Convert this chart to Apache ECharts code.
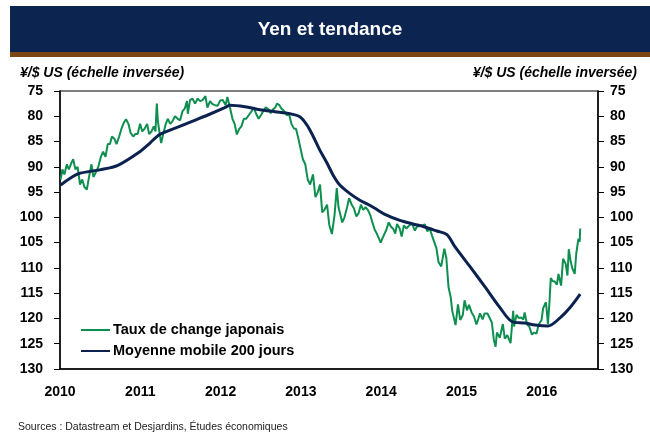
<!DOCTYPE html>
<html>
<head>
<meta charset="utf-8">
<script src="https://cdn.jsdelivr.net/npm/echarts@6/dist/echarts.min.js"></script>
<style>
  html, body { margin: 0; padding: 0; background: #fff; }
  #chart { width: 650px; height: 436px; }
</style>
</head>
<body>
<div id="chart"></div>
<script>
// Yen et tendance - taux ¥/$ US (échelle inversée)
var titre = 'Yen et tendance';
var nomAxe = '¥/$ US (échelle inversée)';
var source = 'Sources : Datastream et Desjardins, Études économiques';
var nomTaux = 'Taux de change japonais';
var nomMoyenne = 'Moyenne mobile 200 jours';
var anneeMin = 2010;
var anneeMax = 2016.7;
var yMin = 75;
var yMax = 130;

// taux de change
var tauxDates = [
  '2010-01-04','2010-01-12','2010-01-21','2010-02-01','2010-02-10','2010-02-22','2010-03-02','2010-03-12','2010-03-22',
  '2010-04-02','2010-04-12','2010-04-22','2010-05-03','2010-05-13','2010-05-24','2010-06-02','2010-06-14','2010-06-24',
  '2010-07-06','2010-07-16','2010-07-27','2010-08-06','2010-08-16','2010-08-25','2010-09-06','2010-09-15','2010-09-27',
  '2010-10-07','2010-10-18','2010-10-28','2010-11-08','2010-11-18','2010-11-30','2010-12-10','2010-12-20','2010-12-31',
  '2011-01-10','2011-01-20','2011-02-01','2011-02-10','2011-02-21','2011-03-03','2011-03-11','2011-03-17','2011-03-22',
  '2011-04-01','2011-04-06','2011-04-15','2011-04-27','2011-05-06','2011-05-17','2011-05-27','2011-06-08','2011-06-20',
  '2011-07-01','2011-07-12','2011-07-22','2011-08-01','2011-08-05','2011-08-15','2011-08-26','2011-09-07','2011-09-19',
  '2011-09-30','2011-10-11','2011-10-24','2011-10-31','2011-11-02','2011-11-14','2011-11-25','2011-12-07','2011-12-19','2011-12-30',
  '2012-01-11','2012-01-24','2012-02-01','2012-02-14','2012-02-24','2012-03-05','2012-03-15','2012-03-26','2012-04-05',
  '2012-04-16','2012-04-26','2012-05-08','2012-05-18','2012-05-31','2012-06-11','2012-06-22','2012-07-03','2012-07-13',
  '2012-07-25','2012-08-06','2012-08-16','2012-08-28','2012-09-07','2012-09-14','2012-09-25','2012-10-05','2012-10-17',
  '2012-10-29','2012-11-08','2012-11-19','2012-11-30','2012-12-10','2012-12-20','2012-12-31',
  '2013-01-10','2013-01-21','2013-02-01','2013-02-12','2013-02-25','2013-03-08','2013-03-19','2013-03-29','2013-04-08',
  '2013-04-18','2013-04-30','2013-05-10','2013-05-22','2013-06-03','2013-06-13','2013-06-21','2013-07-08','2013-07-18',
  '2013-07-30','2013-08-08','2013-08-20','2013-08-30','2013-09-10','2013-09-20','2013-10-01','2013-10-11','2013-10-22',
  '2013-11-01','2013-11-12','2013-11-22','2013-12-03','2013-12-12','2013-12-30',
  '2014-01-06','2014-01-15','2014-01-24','2014-02-04','2014-02-14','2014-02-25','2014-03-06','2014-03-14','2014-03-26',
  '2014-04-04','2014-04-14','2014-04-25','2014-05-06','2014-05-21','2014-06-03','2014-06-13','2014-06-25','2014-07-08',
  '2014-07-18','2014-07-30','2014-08-08','2014-08-20','2014-08-29','2014-09-09','2014-09-19','2014-10-01','2014-10-15',
  '2014-10-24','2014-11-03','2014-11-13','2014-11-20','2014-12-05','2014-12-16','2014-12-26',
  '2015-01-07','2015-01-15','2015-01-26','2015-02-04','2015-02-16','2015-02-27','2015-03-10','2015-03-19','2015-03-26',
  '2015-04-07','2015-04-16','2015-04-29','2015-05-08','2015-05-19','2015-05-28','2015-06-05','2015-06-11','2015-06-24',
  '2015-07-08','2015-07-17','2015-07-28','2015-08-12','2015-08-24','2015-08-28','2015-09-08','2015-09-18','2015-09-29',
  '2015-10-09','2015-10-15','2015-10-26','2015-11-05','2015-11-17','2015-11-27','2015-12-08','2015-12-18','2015-12-31',
  '2016-01-07','2016-01-15','2016-01-20','2016-01-29','2016-02-05','2016-02-11','2016-02-19','2016-02-29','2016-03-10',
  '2016-03-17','2016-03-29','2016-04-07','2016-04-19','2016-04-27','2016-05-03','2016-05-12','2016-05-20','2016-05-30',
  '2016-06-06','2016-06-16','2016-06-22','2016-06-24'
];
var tauxValeurs = [
  92.5, 90.5, 91.5, 89.5, 90.5, 89.2, 88.5, 90.5, 90.0,
  93.5, 92.5, 94.0, 94.5, 92.0, 89.5, 92.0, 91.0, 90.0,
  88.0, 87.0, 88.0, 85.5, 85.5, 84.0, 84.5, 85.5, 84.0,
  82.5, 81.3, 80.6, 81.5, 83.3, 84.0, 83.5, 83.5, 81.5,
  83.0, 82.5, 81.5, 83.5, 83.0, 82.0, 83.0, 77.5, 81.0,
  84.0, 85.3, 83.5, 81.5, 80.5, 81.5, 81.0, 80.0, 80.5,
  80.8, 79.0, 78.5, 77.0, 79.5, 76.8, 76.5, 77.5, 76.5,
  77.0, 76.8, 76.0, 75.8, 78.3, 77.0, 77.6, 77.8, 77.9, 76.9,
  76.8, 77.8, 76.2, 78.5, 80.5, 81.5, 83.6, 82.5, 82.0,
  80.5, 80.5, 79.8, 79.2, 78.3, 79.5, 80.5, 79.8, 79.0,
  78.2, 78.6, 79.4, 78.6, 78.2, 77.5, 77.8, 78.5, 79.0,
  79.8, 79.6, 81.5, 82.4, 82.5, 84.3, 86.5,
  88.5, 89.5, 92.5, 93.5, 91.5, 96.0, 95.0, 93.5, 99.0,
  98.5, 97.5, 101.5, 103.3, 99.5, 94.2, 98.0, 101.0, 100.0,
  98.0, 96.2, 97.5, 98.2, 99.8, 99.2, 97.5, 98.5, 98.0,
  98.5, 99.5, 101.0, 102.5, 103.2, 105.0,
  104.2, 104.5, 102.5, 101.0, 101.8, 102.3, 103.2, 101.3, 102.2,
  103.8, 101.6, 102.2, 101.7, 101.2, 102.6, 101.8, 101.7, 101.6,
  101.4, 102.8, 102.0, 103.6, 103.9, 106.1, 108.9, 109.7, 106.2,
  108.0, 113.8, 115.8, 118.5, 121.3, 117.2, 120.3,
  119.3, 116.4, 118.4, 117.3, 118.8, 119.6, 121.2, 120.0, 119.0,
  120.2, 119.0, 119.0, 119.8, 120.8, 124.2, 125.6, 122.8, 123.8,
  121.1, 124.0, 123.3, 124.9, 118.5, 121.6, 119.3, 119.9, 119.8,
  120.2, 118.8, 121.2, 121.6, 123.2, 122.8, 123.0, 121.2, 120.3,
  118.0, 117.2, 116.8, 121.1, 116.8, 112.0, 112.6, 112.7, 113.3,
  111.2, 113.5, 108.2, 109.2, 111.5, 106.3, 108.8, 110.2, 111.2,
  107.2, 104.2, 104.8, 102.2
];

// moyenne mobile 200 jours
var moyDates = [
  '2010-01-04','2010-03-24','2010-07-01','2010-09-21','2010-12-30','2011-02-14','2011-03-30','2011-06-29',
  '2011-09-05','2011-11-12','2012-01-20','2012-02-12','2012-04-21','2012-06-28','2012-09-05','2012-11-12',
  '2012-12-27','2013-01-28','2013-02-25','2013-03-28','2013-04-29','2013-05-27','2013-06-27','2013-08-12',
  '2013-09-26','2013-11-01','2013-12-03','2014-01-18','2014-03-27','2014-05-25','2014-07-18','2014-09-11',
  '2014-10-27','2014-12-02','2015-02-08','2015-04-17','2015-06-24','2015-08-18','2015-10-16','2015-12-01',
  '2016-01-29','2016-03-24','2016-05-08','2016-06-24'
];
var moyValeurs = [
  93.6, 91.4, 90.6, 89.7, 87.0, 85.3, 83.6, 82.0,
  80.8, 79.6, 78.3, 77.8, 78.1, 78.7, 79.1, 79.5,
  80.1, 81.7, 83.9, 86.7, 89.2, 91.6, 93.6, 95.3,
  96.6, 97.4, 98.2, 99.4, 100.6, 101.3, 101.9, 102.7,
  103.4, 105.8, 109.7, 113.7, 117.8, 120.6, 120.9, 121.3,
  121.5, 119.9, 117.9, 115.2
];

var fonte = "'Liberation Sans', Arial, sans-serif";

// date -> annee decimale pour l'axe
function fAnnee(d) {
    var p = d.split('-');
    var y = parseInt(p[0], 10);
    var debut = Date.UTC(y, 0, 1);
    var fin = Date.UTC(y + 1, 0, 1);
    return y + (Date.UTC(y, parseInt(p[1], 10) - 1, parseInt(p[2], 10)) - debut) / (fin - debut);
}
function fPaires(dates, vals) {
    var out = [];
    for (var i = 0; i < dates.length; i++) {
        out.push([fAnnee(dates[i]), vals[i]]);
    }
    return out;
}

var myChart = echarts.init(document.getElementById('chart'), null, { renderer: 'canvas' });

var axeY = function (pos, marge) {
    return {
        type: 'value',
        position: pos,
        inverse: true,
        min: yMin,
        max: yMax,
        interval: 5,
        axisLine: { show: true, lineStyle: { color: '#000', width: 1.5 } },
        axisTick: { show: true, length: 6, lineStyle: { color: '#000', width: 1 } },
        axisLabel: { margin: marge, color: '#000', fontSize: 14, fontWeight: 'bold', fontFamily: fonte },
        splitLine: { show: false }
    };
};

var option = {
    animation: false,
    backgroundColor: '#fff',
    grid: {
        left: 60, right: 52, top: 91, bottom: 67,
        show: true, borderColor: '#555', borderWidth: 1.5, backgroundColor: 'transparent'
    },
    graphic: [
        { type: 'rect', shape: { x: 10, y: 6, width: 640, height: 46 }, style: { fill: '#0b2550' } },
        { type: 'rect', shape: { x: 10, y: 52, width: 640, height: 5 }, style: { fill: '#7b4713' } },
        { type: 'text', x: 330, y: 30, style: { text: titre, fill: '#fff', font: 'bold 19px ' + fonte, textAlign: 'center', textVerticalAlign: 'middle' } },
        { type: 'text', x: 20, y: 73, style: { text: nomAxe, fill: '#000', font: 'italic bold 14px ' + fonte, textAlign: 'left', textVerticalAlign: 'middle' } },
        { type: 'text', x: 637, y: 73, style: { text: nomAxe, fill: '#000', font: 'italic bold 14px ' + fonte, textAlign: 'right', textVerticalAlign: 'middle' } },
        { type: 'text', x: 18, y: 427, style: { text: source, fill: '#222', font: '10.5px ' + fonte, textAlign: 'left', textVerticalAlign: 'middle' } }
    ],
    legend: {
        orient: 'vertical',
        left: 76,
        top: 317,
        selectedMode: false,
        icon: 'rect',
        itemWidth: 29,
        itemHeight: 2,
        itemGap: 5,
        textStyle: { color: '#000', fontSize: 14.5, fontWeight: 'bold', fontFamily: fonte, lineHeight: 16, padding: [0, 0, 0, -2] },
        data: [nomTaux, nomMoyenne]
    },
    xAxis: {
        type: 'value',
        min: anneeMin,
        max: anneeMax,
        interval: 1,
        axisLine: { show: true, lineStyle: { color: '#000', width: 1.5 } },
        axisTick: { show: false },
        splitLine: { show: false },
        axisLabel: {
            margin: 16, color: '#000', fontSize: 14, fontWeight: 'bold', fontFamily: fonte,
            showMaxLabel: false,
            formatter: function (v) { return String(Math.round(v)); }
        }
    },
    yAxis: [axeY('left', 17), axeY('right', 12)],
    series: [
        {
            name: nomTaux,
            type: 'line',
            yAxisIndex: 0,
            symbol: 'none',
            data: fPaires(tauxDates, tauxValeurs),
            lineStyle: { color: '#0e8f4f', width: 2 },
            itemStyle: { color: '#0e8f4f' }
        },
        {
            name: nomMoyenne,
            type: 'line',
            yAxisIndex: 0,
            symbol: 'none',
            smooth: 0.3,
            data: fPaires(moyDates, moyValeurs),
            lineStyle: { color: '#0b2250', width: 3 },
            itemStyle: { color: '#0b2250' }
        }
    ]
};
myChart.setOption(option);
</script>
</body>
</html>
